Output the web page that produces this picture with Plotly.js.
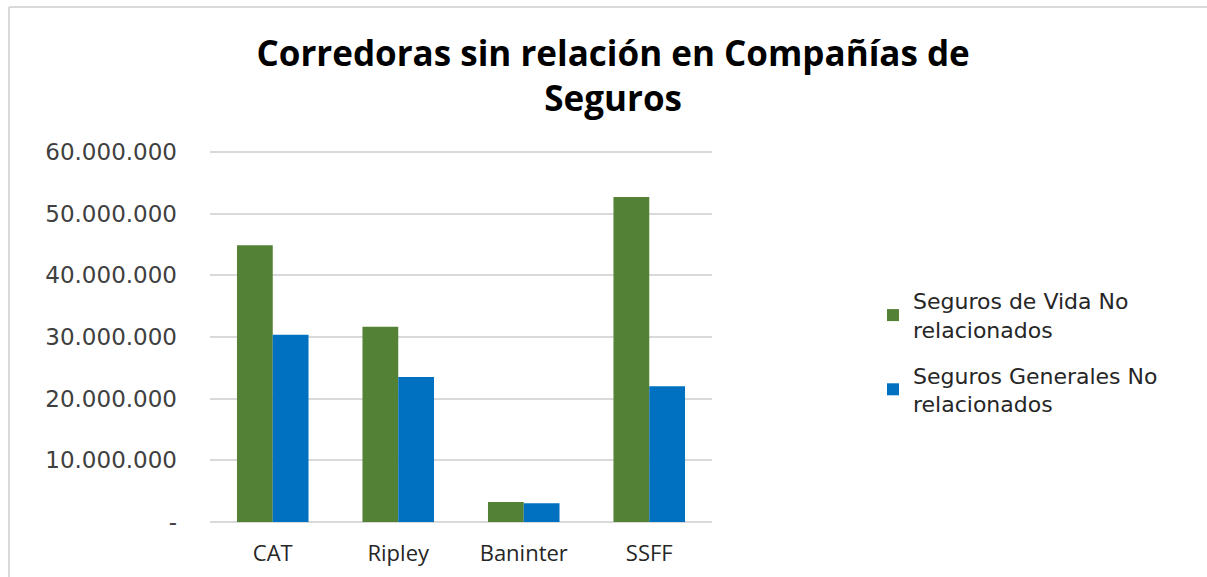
<!DOCTYPE html>
<html>
<head>
<meta charset="utf-8">
<script src="https://cdn.plot.ly/plotly-3.0.1.min.js"></script>
<style>
  body { margin: 0; background: white; }
  #chart { width: 1207px; height: 577px; }
</style>
</head>
<body>
<div id="chart"></div>
<script>
// categories and series
var corredoras = ['CAT', 'Ripley', 'Baninter', 'SSFF'];
var vida = [44900000, 31650000, 3250000, 52700000];
var generales = [30350000, 23500000, 3050000, 22000000];

var serieNames = ['Seguros de Vida No<br>relacionados', 'Seguros Generales No<br>relacionados'];

// y axis ticks
var yTicks = [0, 10000000, 20000000, 30000000, 40000000, 50000000, 60000000];
var yTickText = ['-', '10.000.000', '20.000.000', '30.000.000', '40.000.000', '50.000.000', '60.000.000'];

var trace_vida = {
    x: corredoras,
    y: vida,
    type: 'bar',
    name: serieNames[0],
    legendgroup: 'vida',
    marker: {color: '#538135'},
    hoverinfo: 'x+y'
}
var trace_gen = {
    x: corredoras,
    y: generales,
    type: 'bar',
    name: serieNames[1],
    legendgroup: 'gen',
    marker: {color: '#0070c0'},
    hoverinfo: 'x+y'
}

// plot area roughly x 210..712, y 150..524 (range padded a bit so the 0 and 60M grid lines show)
var L = 210, R = 712, T = 150, B = 524;
function px(x) { return (x - L) / (R - L); }
function py(y) { return (B - y) / (B - T); }

var layout = {
    title: {
        text: 'Corredoras sin relación en Compañías de<br>Seguros',
        font: {family: 'Open Sans', size: 35, color: '#000000', weight: 'bold'},
        x: 0.508,
        xanchor: 'center',
        y: 0.886,
        yanchor: 'middle'
    },
    barmode: 'group',
    bargap: 0.43,
    bargroupgap: 0,
    showlegend: true,
    legend: {
        x: px(873),
        xanchor: 'left',
        y: py(280),
        yanchor: 'top',
        font: {family: 'DejaVu Sans', size: 22, color: '#262626'},
        tracegroupgap: 14,
        itemwidth: 30
    },
    xaxis: {
        type: 'category',
        showgrid: false,
        zeroline: false,
        showline: false,
        ticks: '',
        ticklabelstandoff: 14,
        tickfont: {family: 'Open Sans', size: 22, color: '#262626'}
    },
    yaxis: {
        range: [-330000, 60330000],
        tickvals: yTicks,
        ticktext: yTickText,
        showgrid: true,
        gridcolor: '#d9d9d9',
        gridwidth: 2,
        zeroline: false,
        showline: false,
        ticks: '',
        ticklabelstandoff: 32,
        tickfont: {family: 'DejaVu Sans', size: 23, color: '#404040'}
    },
    shapes: [
        {type: 'line', xref: 'paper', yref: 'paper', x0: px(9), x1: px(1210), y0: py(7), y1: py(7),
         line: {color: '#d9d9d9', width: 2}},
        {type: 'line', xref: 'paper', yref: 'paper', x0: px(9), x1: px(9), y0: py(7), y1: py(580),
         line: {color: '#d9d9d9', width: 2}}
    ],
    autosize: false,
    width: 1207,
    height: 577,
    margin: {l: L, r: 1207 - R, t: T, b: 577 - B, pad: 0},
    paper_bgcolor: 'white',
    plot_bgcolor: 'white'
};

Plotly.newPlot('chart', [trace_vida, trace_gen], layout, {displayModeBar: false});
</script>
</body>
</html>
